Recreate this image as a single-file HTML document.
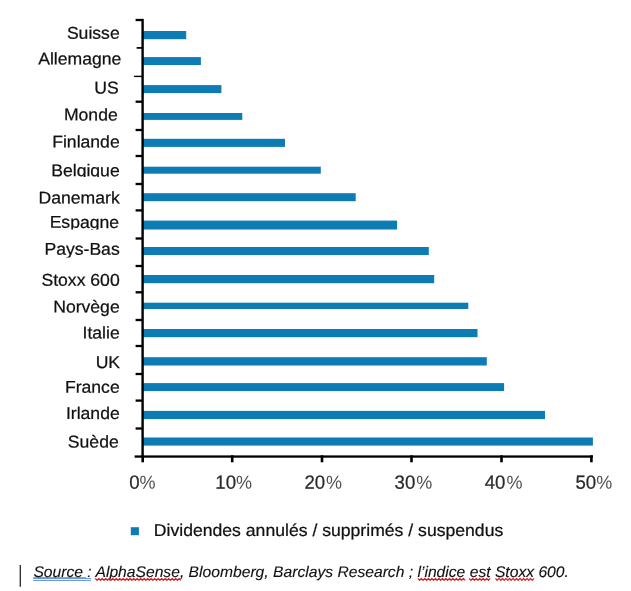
<!DOCTYPE html>
<html lang="fr">
<head>
<meta charset="utf-8">
<title>Dividendes annulés / supprimés / suspendus</title>
<style>
html,body{margin:0;padding:0;background:#fff;}
body{width:631px;height:591px;overflow:hidden;font-family:"Liberation Sans",sans-serif;}
svg{display:block;text-rendering:geometricPrecision;}
.lab,.leg,.src{stroke:#111;stroke-width:0.25px;}
.src{stroke-width:0.12px;}
.lab{font-family:"Liberation Sans",sans-serif;font-size:17.6px;fill:#111;text-anchor:end;}
.tk{font-family:"Liberation Sans",sans-serif;font-size:18.6px;fill:#2b2b2b;stroke:#2b2b2b;stroke-width:0.25px;text-anchor:start;}
.pc{font-size:18px;fill:#505050;stroke:none;text-anchor:end;}
.leg{font-family:"Liberation Sans",sans-serif;font-size:17.61px;fill:#111;}
.src{font-family:"Liberation Sans",sans-serif;font-size:15.66px;font-style:italic;fill:#111;}
</style>
</head>
<body>
<svg width="631" height="591" viewBox="0 0 631 591">
<rect x="0" y="0" width="631" height="591" fill="#ffffff"/>

<defs>
<clipPath id="c5"><rect x="0" y="156.5" width="140" height="20.5"/></clipPath>
<clipPath id="c7"><rect x="0" y="208.1" width="140" height="21.3"/></clipPath>
<clipPath id="c8"><rect x="0" y="235.0" width="140" height="22.5"/></clipPath>
</defs>
<g fill="#0d7cb4">
<rect x="142.6" y="31.0" width="43.6" height="8.2"/>
<rect x="142.6" y="57.1" width="58.3" height="7.9"/>
<rect x="142.6" y="85.1" width="78.8" height="8.0"/>
<rect x="142.6" y="113.0" width="99.7" height="6.9"/>
<rect x="142.6" y="138.8" width="142.4" height="8.1"/>
<rect x="142.6" y="166.7" width="178.2" height="7.0"/>
<rect x="142.6" y="193.2" width="213.1" height="8.0"/>
<rect x="142.6" y="220.6" width="254.5" height="8.9"/>
<rect x="142.6" y="247.0" width="286.2" height="8.0"/>
<rect x="142.6" y="275.0" width="291.6" height="8.2"/>
<rect x="142.6" y="302.7" width="325.7" height="6.3"/>
<rect x="142.6" y="329.0" width="334.9" height="8.2"/>
<rect x="142.6" y="357.2" width="344.2" height="8.3"/>
<rect x="142.6" y="383.1" width="361.5" height="8.0"/>
<rect x="142.6" y="410.9" width="402.4" height="8.2"/>
<rect x="142.6" y="437.5" width="450.3" height="8.1"/>
</g>
<g fill="#000">
<rect x="141.4" y="18.9" width="2.4" height="438.9"/>
<rect x="135.6" y="18.85" width="7.0" height="2.3"/>
<rect x="136.6" y="47.05" width="6.0" height="1.7"/>
<rect x="134.0" y="75.70" width="8.6" height="1.4"/>
<rect x="135.6" y="100.55" width="7.0" height="2.3"/>
<rect x="135.6" y="128.85" width="7.0" height="2.3"/>
<rect x="135.6" y="154.85" width="7.0" height="2.3"/>
<rect x="135.6" y="182.85" width="7.0" height="2.3"/>
<rect x="135.6" y="209.25" width="7.0" height="2.3"/>
<rect x="135.6" y="237.35" width="7.0" height="2.3"/>
<rect x="135.6" y="264.85" width="7.0" height="2.3"/>
<rect x="135.6" y="291.15" width="7.0" height="2.3"/>
<rect x="135.6" y="318.85" width="7.0" height="2.3"/>
<rect x="135.6" y="344.85" width="7.0" height="2.3"/>
<rect x="135.6" y="372.85" width="7.0" height="2.3"/>
<rect x="135.6" y="399.45" width="7.0" height="2.3"/>
<rect x="135.6" y="427.35" width="7.0" height="2.3"/>
<rect x="134.6" y="455.4" width="458.4" height="2.3"/>
<rect x="141.4" y="455.3" width="2.6" height="7.0"/>
<rect x="230.9" y="455.3" width="2.6" height="7.0"/>
<rect x="320.7" y="455.3" width="2.6" height="7.0"/>
<rect x="410.2" y="455.3" width="2.6" height="7.0"/>
<rect x="500.2" y="455.3" width="2.6" height="7.0"/>
<rect x="590.1" y="455.3" width="2.6" height="7.0"/>
</g>
<g><text class="lab" transform="translate(119.7,38.80) rotate(0.03) scale(1,0.97)">Suisse</text></g>
<g><text class="lab" transform="translate(121.3,64.50) rotate(0.03) scale(1,0.97)">Allemagne</text></g>
<g><text class="lab" transform="translate(118.7,93.60) rotate(0.03) scale(1,0.97)">US</text></g>
<g><text class="lab" transform="translate(117.7,120.40) rotate(0.03) scale(1,0.97)">Monde</text></g>
<g><text class="lab" transform="translate(119.7,147.50) rotate(0.03) scale(1,0.97)">Finlande</text></g>
<g clip-path="url(#c5)"><text class="lab" transform="translate(119.7,176.30) rotate(0.03) scale(1,0.97)">Belgique</text></g>
<g><text class="lab" transform="translate(119.7,203.60) rotate(0.03) scale(1,0.97)">Danemark</text></g>
<g clip-path="url(#c7)"><text class="lab" transform="translate(119.1,227.90) rotate(0.03) scale(1,0.97)">Espagne</text></g>
<g clip-path="url(#c8)"><text class="lab" transform="translate(119.7,254.80) rotate(0.03) scale(1,0.97)">Pays-Bas</text></g>
<g><text class="lab" transform="translate(119.7,285.70) rotate(0.03) scale(1,0.97)">Stoxx 600</text></g>
<g><text class="lab" transform="translate(119.7,312.60) rotate(0.03) scale(1,0.97)">Norvège</text></g>
<g><text class="lab" transform="translate(119.7,338.60) rotate(0.03) scale(1,0.97)">Italie</text></g>
<g><text class="lab" transform="translate(120.1,367.90) rotate(0.03) scale(1,0.97)">UK</text></g>
<g><text class="lab" transform="translate(119.7,392.70) rotate(0.03) scale(1,0.97)">France</text></g>
<g><text class="lab" transform="translate(119.7,419.10) rotate(0.03) scale(1,0.97)">Irlande</text></g>
<g><text class="lab" transform="translate(118.7,447.50) rotate(0.03) scale(1,0.97)">Suède</text></g>
<text class="tk" transform="translate(129.2,488.7) rotate(0.03) scale(1,1.03)"><tspan class="dg">0</tspan></text>
<text class="tk pc" transform="translate(155.6,488.7) rotate(0.03) scale(1,1.05)">%</text>
<text class="tk" transform="translate(215.3,488.7) rotate(0.03) scale(1,1.03)"><tspan class="dg">10</tspan></text>
<text class="tk pc" transform="translate(251.9,488.7) rotate(0.03) scale(1,1.05)">%</text>
<text class="tk" transform="translate(304.4,488.7) rotate(0.03) scale(1,1.03)"><tspan class="dg">20</tspan></text>
<text class="tk pc" transform="translate(342.0,488.7) rotate(0.03) scale(1,1.05)">%</text>
<text class="tk" transform="translate(394.6,488.7) rotate(0.03) scale(1,1.03)"><tspan class="dg">30</tspan></text>
<text class="tk pc" transform="translate(432.2,488.7) rotate(0.03) scale(1,1.05)">%</text>
<text class="tk" transform="translate(484.7,488.7) rotate(0.03) scale(1,1.03)"><tspan class="dg">40</tspan></text>
<text class="tk pc" transform="translate(522.4,488.7) rotate(0.03) scale(1,1.05)">%</text>
<text class="tk" transform="translate(575.4,488.7) rotate(0.03) scale(1,1.03)"><tspan class="dg">50</tspan></text>
<text class="tk pc" transform="translate(612.2,488.7) rotate(0.03) scale(1,1.05)">%</text>
<rect x="130.8" y="527.2" width="8.1" height="8.0" fill="#0d7cb4"/>
<text class="leg" transform="translate(153.8,536.3) rotate(0.02) scale(1,0.975)">Dividendes annulés / supprimés / suspendus</text>
<rect x="19.7" y="565" width="1.1" height="21.8" fill="#000"/>
<text class="src" transform="translate(33.4,576.5) rotate(0.01) scale(1,0.98)">Source : AlphaSense, Bloomberg, Barclays Research ; l’indice est Stoxx 600.</text>
<rect x="33.2" y="577.4" width="53" height="0.6" fill="#222" opacity="0.7"/>
<g fill="#5b8fd8"><rect x="33.2" y="578.1" width="57.8" height="0.9"/><rect x="33.2" y="579.9" width="57.8" height="1.0"/></g>
<polyline points="95.2,578.3 97.0,580.3 98.7,578.3 100.5,580.3 102.2,578.3 104.0,580.3 105.7,578.3 107.5,580.3 109.2,578.3 111.0,580.3 112.7,578.3 114.5,580.3 116.2,578.3 118.0,580.3 119.7,578.3 121.5,580.3 123.2,578.3 125.0,580.3 126.7,578.3 128.4,580.3 130.2,578.3 131.9,580.3 133.7,578.3 135.4,580.3 137.2,578.3 138.9,580.3 140.7,578.3 142.4,580.3 144.2,578.3 145.9,580.3 147.7,578.3 149.4,580.3 151.2,578.3 152.9,580.3 154.7,578.3 156.4,580.3 158.2,578.3 159.9,580.3 161.7,578.3 163.4,580.3 165.2,578.3 166.9,580.3 168.7,578.3 170.4,580.3 172.2,578.3 173.9,580.3 175.7,578.3 177.4,580.3 179.2,578.3 180.9,580.3" fill="none" stroke="#dc1e28" stroke-width="1.2" stroke-linejoin="round"/>
<polyline points="417.9,578.3 419.6,580.3 421.4,578.3 423.1,580.3 424.9,578.3 426.6,580.3 428.4,578.3 430.1,580.3 431.9,578.3 433.6,580.3 435.4,578.3 437.1,580.3 438.9,578.3 440.6,580.3 442.4,578.3 444.1,580.3 445.9,578.3 447.6,580.3 449.4,578.3 451.1,580.3 452.9,578.3 454.6,580.3 456.4,578.3 458.1,580.3 459.9,578.3 461.6,580.3 463.4,578.3 465.1,580.3" fill="none" stroke="#dc1e28" stroke-width="1.2" stroke-linejoin="round"/>
<polyline points="469.2,578.3 470.9,580.3 472.7,578.3 474.4,580.3 476.2,578.3 477.9,580.3 479.7,578.3 481.4,580.3 483.2,578.3 484.9,580.3 486.7,578.3 488.4,580.3 490.2,578.3" fill="none" stroke="#dc1e28" stroke-width="1.2" stroke-linejoin="round"/>
<polyline points="495.5,578.3 497.2,580.3 499.0,578.3 500.8,580.3 502.5,578.3 504.2,580.3 506.0,578.3 507.8,580.3 509.5,578.3 511.2,580.3 513.0,578.3 514.8,580.3 516.5,578.3 518.2,580.3 520.0,578.3 521.8,580.3 523.5,578.3 525.2,580.3 527.0,578.3 528.8,580.3 530.5,578.3 532.2,580.3 534.0,578.3" fill="none" stroke="#dc1e28" stroke-width="1.2" stroke-linejoin="round"/>
</svg>
</body>
</html>
